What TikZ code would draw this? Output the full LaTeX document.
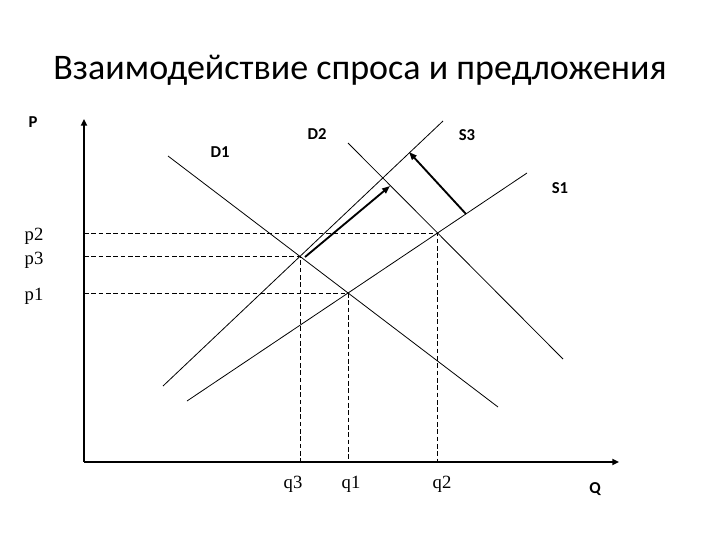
\documentclass[tikz,border=0pt]{standalone}
\usepackage{fontspec}
\setmainfont{Carlito}
\newfontfamily\serifq{Liberation Serif}
\usetikzlibrary{arrows.meta}
\tikzset{
  curve/.style={line width=0.6pt},
  axisline/.style={line width=1.6pt,-{Triangle[length=5pt,width=4.5pt]}},
  shiftarrow/.style={line width=1.4pt,-{Triangle[length=6pt,width=4.5pt]}},
  guide/.style={line width=0.6pt,dash pattern=on 3.5pt off 2pt},
  curvelabel/.style={font=\fontsize{12.5}{14}\selectfont\bfseries},
  vallabel/.style={font=\serifq\fontsize{14}{16}\selectfont},
}
\begin{document}
\begin{tikzpicture}[x=0.75pt,y=-0.75pt]
\useasboundingbox (0,0) rectangle (720,540);
% title
\node[font=\fontsize{27}{31}\selectfont] (title) at (360,70) {Взаимодействие спроса и предложения};
% axes
\coordinate (O) at (84,462);
\coordinate (ytop) at (84,119);
\coordinate (xend) at (619,462);
\draw[axisline] (O) -- (ytop);
\draw[axisline] (O) -- (xend);
% curve endpoints
\coordinate (d1a) at (168,156);
\coordinate (d1b) at (498,407);
\coordinate (d2a) at (348,143);
\coordinate (d2b) at (563,359);
\coordinate (s1a) at (187,401);
\coordinate (s1b) at (527,173);
\coordinate (s3a) at (163,386);
\coordinate (s3b) at (443,121);
% intersections
\coordinate (E1) at (intersection of d1a--d1b and s1a--s1b);
\coordinate (E2) at (intersection of d2a--d2b and s1a--s1b);
\coordinate (E3) at (intersection of d1a--d1b and s3a--s3b);
% guide lines
\draw[guide] (E2 -| O) -- (E2) -- (E2 |- O);
\draw[guide] (E3 -| O) -- (E3) -- (E3 |- O);
\draw[guide] (E1 -| O) -- (E1) -- (E1 |- O);
% curves
\draw[curve] (d1a) -- (d1b);
\draw[curve] (d2a) -- (d2b);
\draw[curve] (s1a) -- (s1b);
\draw[curve] (s3a) -- (s3b);
% shift arrows
\coordinate (a1s) at (305,257);
\coordinate (a1e) at (390,186);
\coordinate (a2s) at (466,214);
\coordinate (a2e) at (409,152);
\draw[shiftarrow] (a1s) -- (a1e);
\draw[shiftarrow] (a2s) -- (a2e);
% labels
\node[curvelabel] (lP) at (33,122) {P};
\node[curvelabel] (lQ) at (595,489) {Q};
\node[curvelabel] (lD1) at (220,152) {D1};
\node[curvelabel] (lD2) at (317,134) {D2};
\node[curvelabel] (lS3) at (467,135) {S3};
\node[curvelabel] (lS1) at (560,188) {S1};
\node[vallabel] (lp2) at (34,236) {p2};
\node[vallabel] (lp3) at (34,260) {p3};
\node[vallabel] (lp1) at (34,296) {p1};
\node[vallabel] (lq3) at (293,484) {q3};
\node[vallabel] (lq1) at (351,484) {q1};
\node[vallabel] (lq2) at (442,484) {q2};
\end{tikzpicture}
\end{document}
